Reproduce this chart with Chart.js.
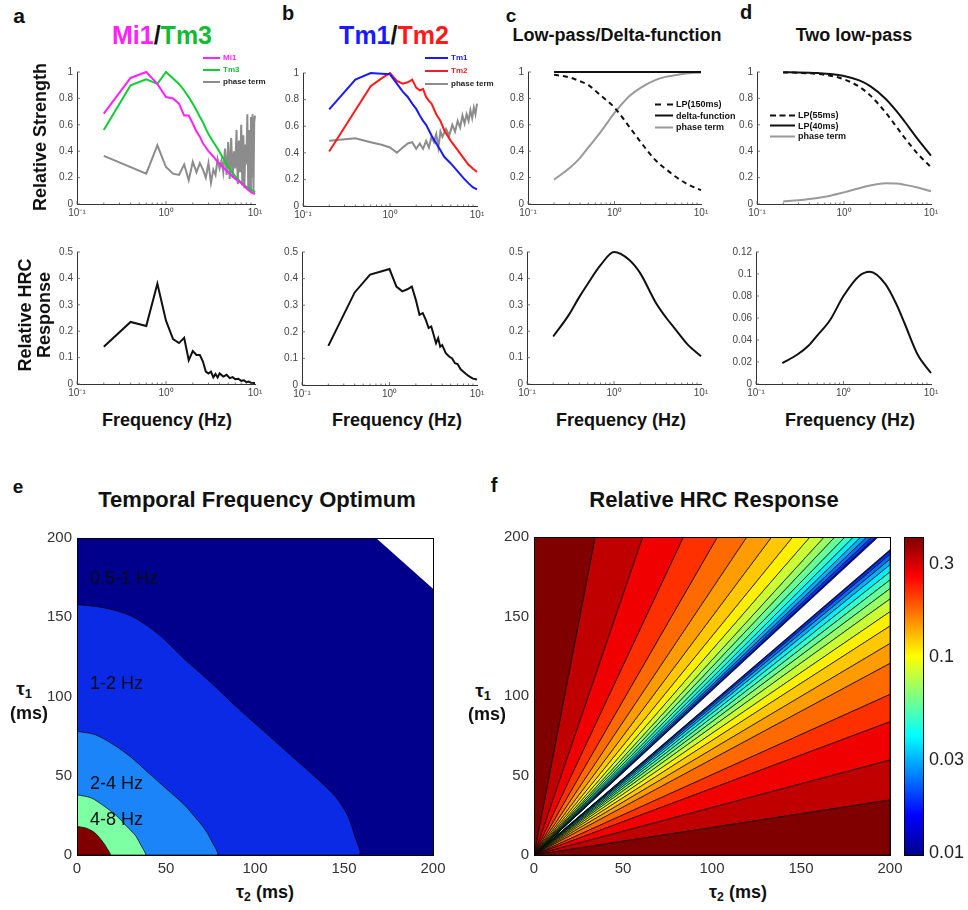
<!DOCTYPE html>
<html>
<head>
<meta charset="utf-8">
<title>HRC frequency tuning</title>
<script src="https://cdn.jsdelivr.net/npm/chart.js@4.4.1/dist/chart.umd.min.js"></script>
<style>
  body { margin: 0; background: #fff; }
  #page { position: relative; width: 968px; height: 910px; overflow: hidden;
          font-family: "Liberation Sans", Arial, Helvetica, sans-serif; }
  .box { position: absolute; }
  .txt { position: absolute; white-space: nowrap; line-height: 1; color: #111;
         transform: translate(-50%, -50%); }
  .leg { position: absolute; white-space: nowrap; line-height: 1; font-weight: bold;
         transform: translateY(-50%); }
  .leg i { display: inline-block; vertical-align: middle; margin-right: 3px; }
  sub { font-size: 68%; vertical-align: -0.3em; }
</style>
</head>
<body>
<div id="page"></div>
<script>
// ---- data ----

// a (top): Mi1 / Tm3 relative strength
const freqA = [0.2, 0.4, 0.6, 0.8, 1.0, 1.2, 1.4, 1.6, 1.8, 2.0, 2.2, 2.4, 2.6, 2.8, 3.0, 3.4, 3.8, 4.2, 5, 6, 7, 8, 9, 10];
const mi1 = [0.685, 0.955, 1.0, 0.91, 0.81, 0.80, 0.76, 0.67, 0.67, 0.61, 0.55, 0.51, 0.46, 0.43, 0.40, 0.36, 0.32, 0.29, 0.24, 0.19, 0.16, 0.12, 0.09, 0.075];
const tm3 = [0.56, 0.90, 0.945, 0.91, 1.0, 0.95, 0.91, 0.86, 0.81, 0.76, 0.71, 0.66, 0.62, 0.57, 0.53, 0.47, 0.42, 0.37, 0.28, 0.21, 0.16, 0.13, 0.11, 0.09];
const freqPhaseA = [0.2, 0.6, 0.8, 1.0, 1.2, 1.4, 1.6, 1.8, 2.0, 2.2, 2.4, 2.6, 2.8, 3.0, 3.2, 3.4, 3.6, 3.8, 4.0, 4.2, 4.4, 4.6, 4.8, 5.0,
                    5.2, 5.4, 5.6, 5.8, 6.0, 6.2, 6.4, 6.6, 6.8, 7.0, 7.2, 7.4, 7.6, 7.8, 8.0, 8.2, 8.4, 8.6, 8.8, 9.0, 9.2, 9.4, 9.6, 9.8, 10];
const phaseA = [0.365, 0.23, 0.445, 0.28, 0.23, 0.22, 0.30, 0.18, 0.32, 0.24, 0.31, 0.26, 0.20, 0.31, 0.16, 0.26, 0.22, 0.34, 0.27, 0.33, 0.24, 0.42, 0.22, 0.47,
                0.19, 0.50, 0.20, 0.40, 0.27, 0.56, 0.15, 0.48, 0.24, 0.60, 0.14, 0.52, 0.12, 0.45, 0.30, 0.68, 0.12, 0.56, 0.10, 0.66, 0.20, 0.68, 0.08, 0.62, 0.67];

// b (top): Tm1 / Tm2 relative strength
const freqB = [0.2, 0.4, 0.6, 0.8, 1.0, 1.2, 1.4, 1.6, 1.8, 2.0, 2.2, 2.4, 2.6, 2.8, 3.0, 3.4, 3.8, 4.2, 5, 6, 7, 8, 9, 10];
const tm1 = [0.727, 0.95, 1.0, 0.995, 0.99, 0.92, 0.86, 0.82, 0.77, 0.73, 0.68, 0.64, 0.61, 0.57, 0.53, 0.47, 0.42, 0.37, 0.32, 0.26, 0.21, 0.17, 0.14, 0.125];
const tm2 = [0.41, 0.72, 0.90, 0.96, 1.0, 0.94, 0.92, 0.93, 0.95, 0.89, 0.87, 0.88, 0.82, 0.79, 0.77, 0.69, 0.64, 0.57, 0.49, 0.42, 0.36, 0.31, 0.28, 0.255];
const freqPhaseB = [0.2, 0.4, 0.6, 0.8, 1.0, 1.2, 1.4, 1.6, 1.8, 2.0, 2.2, 2.4, 2.6, 2.8, 3.0, 3.2, 3.4, 3.6, 3.8, 4.0,
                    4.4, 4.8, 5.2, 5.6, 6.0, 6.4, 6.8, 7.2, 7.6, 8.0, 8.4, 8.8, 9.2, 9.6, 10];
const phaseB = [0.49, 0.51, 0.48, 0.46, 0.44, 0.40, 0.44, 0.47, 0.48, 0.43, 0.47, 0.43, 0.49, 0.44, 0.52, 0.48, 0.54, 0.44, 0.56, 0.52,
                0.58, 0.53, 0.61, 0.56, 0.64, 0.59, 0.68, 0.62, 0.69, 0.64, 0.72, 0.66, 0.74, 0.69, 0.77];

// a, b (bottom): relative HRC response
const freqHRC = [0.2, 0.4, 0.6, 0.8, 1.0, 1.2, 1.4, 1.6, 1.8, 2.0, 2.2, 2.4, 2.6, 2.8, 3.0, 3.2, 3.4, 3.6, 3.8, 4.0,
                 4.4, 4.8, 5.2, 5.6, 6.0, 6.5, 7.0, 7.5, 8.0, 8.5, 9.0, 10];
const hrcA = [0.141, 0.235, 0.22, 0.38, 0.24, 0.17, 0.155, 0.175, 0.09, 0.125, 0.11, 0.11, 0.085, 0.047, 0.04, 0.047, 0.025, 0.038, 0.025, 0.04,
              0.028, 0.035, 0.022, 0.026, 0.018, 0.02, 0.012, 0.014, 0.007, 0.009, 0.005, 0.004];
const hrcB = [0.147, 0.348, 0.415, 0.427, 0.436, 0.37, 0.352, 0.36, 0.37, 0.32, 0.264, 0.27, 0.245, 0.214, 0.22, 0.188, 0.157, 0.176, 0.144, 0.15,
              0.12, 0.107, 0.10, 0.082, 0.079, 0.059, 0.05, 0.041, 0.034, 0.029, 0.024, 0.021];

// c, d: model filters
const freqModel = [0.2, 0.3, 0.4, 0.5, 0.7, 1, 1.5, 2, 3, 4, 5, 7, 10];
const lp150 = [0.98, 0.96, 0.93, 0.90, 0.82, 0.73, 0.58, 0.47, 0.33, 0.26, 0.21, 0.15, 0.105];
const freqDelta = [0.2, 10];
const delta = [1, 1];
const phaseC = [0.185, 0.27, 0.35, 0.43, 0.55, 0.69, 0.82, 0.88, 0.94, 0.965, 0.975, 0.99, 0.995];
const hrcC = [0.18, 0.26, 0.33, 0.38, 0.45, 0.50, 0.47, 0.42, 0.31, 0.25, 0.21, 0.15, 0.105];
const lp55 = [0.997, 0.994, 0.99, 0.985, 0.972, 0.945, 0.888, 0.823, 0.694, 0.586, 0.50, 0.382, 0.278];
const lp40 = [0.998, 0.997, 0.995, 0.992, 0.985, 0.970, 0.936, 0.893, 0.798, 0.705, 0.623, 0.494, 0.367];
const phaseD = [0.019, 0.028, 0.037, 0.046, 0.063, 0.088, 0.12, 0.14, 0.157, 0.155, 0.145, 0.125, 0.097];
const hrcD = [0.019, 0.027, 0.035, 0.044, 0.058, 0.080, 0.098, 0.102, 0.091, 0.073, 0.055, 0.027, 0.010];

// e: contour boundaries (tau2, tau1 in ms), outermost first
const eNavyX = [0, 168, 200, 200],                                      eNavyY = [200, 200, 168, 0];
const eBlueX = [0, 15, 30, 45, 60, 75, 90, 105, 120, 135, 145, 152, 156, 158], eBlueY = [158, 156, 151, 140, 124, 109, 93, 78, 63, 48, 37, 25, 12, 0];
const eLightX = [0, 10, 20, 30, 40, 50, 60, 67, 72, 76, 78.5],          eLightY = [78, 76, 70, 62, 52, 42, 32, 23, 16, 8, 0];
const eGreenX = [0, 8, 15, 22, 28, 33, 36, 38, 38.5],                   eGreenY = [38, 36, 31, 25, 18, 12, 6, 2, 0];
const eRedX = [0, 5, 10, 14, 17, 18.5],                                 eRedY = [18, 17, 14, 9, 4, 0];
const eLabels = ['0.5-1 Hz', '1-2 Hz', '2-4 Hz', '4-8 Hz'];
const eLabelTau1 = [174, 108, 45, 22];

// f: contour rays from the origin, where they meet the top edge (tau2) and right edge (tau1)
const fTopEdge = [34.3, 61.0, 83.9, 103, 119.5, 133.5, 145.3, 155, 163, 169, 174.7, 179.4, 183.5, 186.9, 189.7, 192.1, 193.4];
const fRightEdge = [34.6, 59.7, 83.8, 101, 120.5, 133, 144, 153, 161, 167.5, 173, 178, 182.5, 186, 189, 191.2, 192];
const cbTicks = [0.01, 0.03, 0.1, 0.3];
const cbRange = [0.0098, 0.41];

// ---- styles ----
const FONT = '"Liberation Sans", Arial, Helvetica, sans-serif';
const fColors = ['#800000', '#c00000', '#f00000', '#ff3000', '#ff6a00', '#ff9c00', '#ffc800', '#fff000', '#ccff33',
                 '#99ff66', '#66ff99', '#33ffcc', '#00eeff', '#00b0ff', '#0070ff', '#0030ff', '#0000c8'];
const jetStops = [[0, '#00008f'], [0.125, '#0000ff'], [0.375, '#00ffff'], [0.625, '#ffff00'], [0.875, '#ff0000'], [1, '#800000']];
const SUP = { 0.1: '10\u207B\u00B9', 1: '10\u2070', 10: '10\u00B9' };

Chart.defaults.font.family = FONT;
Chart.defaults.animation = false;
Chart.defaults.responsive = true;
Chart.defaults.maintainAspectRatio = false;
Chart.defaults.plugins.legend.display = false;
Chart.defaults.plugins.tooltip.enabled = false;

const page = document.getElementById('page');

function box(l, t, r, b) {
  const d = document.createElement('div');
  d.className = 'box';
  d.style.cssText = `left:${l}px;top:${t}px;width:${r - l}px;height:${b - t}px`;
  const c = document.createElement('canvas');
  d.appendChild(c);
  page.appendChild(d);
  return c;
}

// fixed axis size so the plot area lands where it is in the figure
function fitTo(size) {
  return s => {
    if (s.isHorizontal()) s.height = size; else s.width = size;
    s.paddingLeft = s.paddingRight = s.paddingTop = s.paddingBottom = 0;
  };
}

function text(html, x, y, css) {
  const d = document.createElement('div');
  d.className = 'txt';
  d.innerHTML = html;
  d.style.left = x + 'px';
  d.style.top = y + 'px';
  Object.assign(d.style, css || {});
  page.appendChild(d);
}

function legend(x, y, gap, w, size, rows) {
  rows.forEach((r, i) => {
    const d = document.createElement('div');
    d.className = 'leg';
    d.style.left = x + 'px';
    d.style.top = (y + i * gap) + 'px';
    d.style.fontSize = size + 'px';
    d.innerHTML = `<i style="width:${w}px;border-top:2px ${r[3] ? 'dashed' : 'solid'} ${r[1]}"></i><span style="color:${r[2]}">${r[0]}</span>`;
    page.appendChild(d);
  });
}

// small inward ticks like the original axes
const innerTicks = {
  id: 'innerTicks',
  afterDatasetsDraw(chart) {
    const { ctx, chartArea: a, scales: { x, y } } = chart;
    ctx.save();
    ctx.strokeStyle = '#555';
    ctx.lineWidth = 0.8;
    ctx.beginPath();
    [0.1, 1].forEach(d => {
      for (let k = 1; k <= 9; k++) {
        const px = x.getPixelForValue(d * k);
        ctx.moveTo(px, a.bottom);
        ctx.lineTo(px, a.bottom - (k === 1 ? 3 : 1.5));
      }
    });
    y.ticks.forEach(t => {
      const py = y.getPixelForValue(t.value);
      ctx.moveTo(a.left, py);
      ctx.lineTo(a.left + 3, py);
    });
    ctx.stroke();
    ctx.restore();
  }
};

const frame = {
  id: 'frame',
  afterDatasetsDraw(chart) {
    const { ctx, chartArea: a } = chart;
    ctx.save();
    ctx.strokeStyle = '#000';
    ctx.lineWidth = 1;
    ctx.strokeRect(Math.round(a.left) + 0.5, Math.round(a.top) + 0.5, Math.round(a.right - a.left), Math.round(a.bottom - a.top));
    ctx.restore();
  }
};

function series(xs, ys, color, smooth, dash) {
  return {
    data: xs.map((x, i) => ({ x, y: ys[i] })),
    borderColor: color, borderWidth: 2, borderDash: dash || [],
    pointRadius: 0, fill: false, clip: 4,
    tension: smooth ? 0.4 : 0, cubicInterpolationMode: smooth ? 'monotone' : 'default'
  };
}

function freqChart(area, datasets, yMax, yStep) {
  const [L, T, R, B] = area;
  const axisStyle = {
    grid: { drawOnChartArea: false, drawTicks: false },
    border: { color: '#333', width: 1 }
  };
  return new Chart(box(L - 30, T - 8, R + 14, B + 18), {
    type: 'line',
    data: { datasets },
    options: {
      layout: { padding: { left: 0, top: 8, right: 14, bottom: 2 } },
      scales: {
        x: Object.assign({}, axisStyle, {
          type: 'logarithmic', min: 0.1, max: 10,
          afterBuildTicks: s => { s.ticks = [0.1, 1, 10].map(v => ({ value: v })); },
          afterFit: fitTo(16),
          ticks: { callback: v => SUP[v], font: { size: 10 }, color: '#444', padding: 3, maxRotation: 0, autoSkip: false }
        }),
        y: Object.assign({}, axisStyle, {
          min: 0, max: yMax,
          afterFit: fitTo(30),
          ticks: { stepSize: yStep, font: { size: 10 }, color: '#444', padding: 4, callback: v => String(+v.toFixed(3)) }
        })
      }
    },
    plugins: [innerTicks]
  });
}

function polygon(pts, color, withEdge, order, smooth) {
  return {
    data: pts.map(p => ({ x: p[0], y: p[1] })),
    fill: 'shape', backgroundColor: color,
    borderColor: '#000', borderWidth: withEdge ? 0.7 : 0,
    pointRadius: 0, tension: smooth ? 0.3 : 0, order: order || 0
  };
}

function region(xs, ys, color, withEdge, order) {
  const pts = xs.map((x, i) => [x, ys[i]]);
  pts.push([0, 0]);
  return polygon(pts, color, withEdge, order, withEdge);
}

function tauChart(area, datasets, extra) {
  const [L, T, R, B] = area;
  const axis = size => ({
    type: 'linear', min: 0, max: 200,
    afterFit: fitTo(size),
    grid: { drawOnChartArea: false, drawTicks: false },
    border: { color: '#000', width: 1 },
    ticks: { stepSize: 50, font: { size: 15 }, color: '#333', padding: 5 }
  });
  return new Chart(box(L - 40, T - 8, R + 14, B + 26), {
    type: 'line',
    data: { datasets },
    options: {
      layout: { padding: { left: 0, top: 8, right: 14, bottom: 2 } },
      scales: { x: axis(24), y: axis(40) }
    },
    plugins: [frame].concat(extra || [])
  });
}

// ---- top row: relative strength ----
freqChart([77, 72, 255, 204], [
  series(freqA, mi1, '#ff22ff'),
  series(freqA, tm3, '#11cc33'),
  series(freqPhaseA, phaseA, '#8c8c8c')
], 1, 0.2);
freqChart([303, 73, 477, 206], [
  series(freqB, tm1, '#1a1aff'),
  series(freqB, tm2, '#ff1a1a'),
  series(freqPhaseB, phaseB, '#8c8c8c')
], 1, 0.2);
freqChart([528, 72, 701, 204], [
  series(freqDelta, delta, '#111'),
  series(freqModel, lp150, '#111', true, [5, 4]),
  series(freqModel, phaseC, '#9a9a9a', true)
], 1, 0.2);
freqChart([757, 72, 931, 204], [
  series(freqModel, lp40, '#111', true),
  series(freqModel, lp55, '#111', true, [5, 4]),
  series(freqModel, phaseD, '#9a9a9a', true)
], 1, 0.2);

// ---- second row: relative HRC response ----
freqChart([77, 252, 255, 384], [series(freqHRC, hrcA, '#111')], 0.5, 0.1);
freqChart([302, 252, 477, 385], [series(freqHRC, hrcB, '#111')], 0.5, 0.1);
freqChart([527, 252, 701, 384], [series(freqModel, hrcC, '#111', true)], 0.5, 0.1);
freqChart([756, 252, 931, 384], [series(freqModel, hrcD, '#111', true)], 0.12, 0.02);

// ---- e: temporal frequency optimum ----
const eText = {
  id: 'eText',
  afterDatasetsDraw(chart) {
    const { ctx, scales: { x, y } } = chart;
    ctx.save();
    ctx.font = '18px ' + FONT;
    ctx.fillStyle = '#0a0a12';
    ctx.textBaseline = 'middle';
    eLabels.forEach((t, i) => ctx.fillText(t, x.getPixelForValue(7.3), y.getPixelForValue(eLabelTau1[i])));
    ctx.restore();
  }
};
tauChart([77, 538, 433, 855], [
  region(eNavyX, eNavyY, '#00008c', false, 5),
  region(eBlueX, eBlueY, '#0a2ae6', true, 4),
  region(eLightX, eLightY, '#1a84f8', true, 3),
  region(eGreenX, eGreenY, '#7dffa4', true, 2),
  region(eRedX, eRedY, '#800000', true, 1)
], [eText]);

// ---- f: relative HRC response ----
const fSets = [];
fColors.forEach((c, i) => {
  const a = i === 0 ? null : fTopEdge[i - 1];
  fSets.push(polygon(a === null
    ? [[0, 0], [0, 200], [fTopEdge[0], 200], [0, 0]]
    : [[0, 0], [a, 200], [fTopEdge[i], 200], [0, 0]], c, true));
  const b = i === 0 ? null : fRightEdge[i - 1];
  fSets.push(polygon(b === null
    ? [[0, 0], [200, 0], [200, fRightEdge[0]], [0, 0]]
    : [[0, 0], [200, b], [200, fRightEdge[i]], [0, 0]], c, true));
});
tauChart([534, 537, 890, 855], fSets);

// colorbar
new Chart(box(904, 525, 969, 867), {
  type: 'bar',
  data: {
    labels: ['HRC'],
    datasets: [{
      data: [cbRange],
      barPercentage: 1, categoryPercentage: 1, borderWidth: 0,
      backgroundColor: c => {
        const a = c.chart.chartArea;
        if (!a) return '#888';
        const g = c.chart.ctx.createLinearGradient(0, a.bottom, 0, a.top);
        jetStops.forEach(s => g.addColorStop(s[0], s[1]));
        return g;
      }
    }]
  },
  options: {
    layout: { padding: { left: 0, top: 12, right: 0, bottom: 12 } },
    scales: {
      x: { display: false },
      y: {
        type: 'logarithmic', position: 'right', min: cbRange[0], max: cbRange[1],
        afterBuildTicks: s => { s.ticks = cbTicks.map(v => ({ value: v })); },
        afterFit: fitTo(46),
        grid: { drawOnChartArea: false, drawTicks: false },
        border: { color: '#000' },
        ticks: { callback: v => String(v), font: { size: 18 }, color: '#222', padding: 6 }
      }
    }
  },
  plugins: [frame]
});

// ---- text ----
const big = s => ({ fontSize: s + 'px', fontWeight: 'bold' });

text('a', 19, 15, big(21));
text('b', 288, 13, big(20));
text('c', 511, 15, big(19));
text('d', 746, 12, big(20));
text('e', 18, 486, big(19));
text('f', 494, 485, big(20));

text('<span style="color:#ff22ff">Mi1</span>/<span style="color:#11bb33">Tm3</span>', 162, 35, big(25));
text('<span style="color:#1a1aff">Tm1</span>/<span style="color:#ff1a1a">Tm2</span>', 394, 35, big(25));
text('Low-pass/Delta-function', 617, 35, big(18));
text('Two low-pass', 854, 35, big(18));

text('Relative Strength', 40, 137, Object.assign(big(18), { transform: 'translate(-50%,-50%) rotate(-90deg)' }));
text('Relative HRC<br>Response', 35, 315, Object.assign(big(18), { textAlign: 'center', lineHeight: '1.05', transform: 'translate(-50%,-50%) rotate(-90deg)' }));
[167, 397, 621, 850].forEach(x => text('Frequency (Hz)', x, 420, big(18)));

text('Temporal Frequency Optimum', 257, 500, big(22));
text('Relative HRC Response', 714, 500, big(22));
text('\u03C4<sub>1</sub>', 24, 690, big(19));
text('(ms)', 29, 713, big(18));
text('\u03C4<sub>1</sub>', 483, 692, big(19));
text('(ms)', 487, 714, big(18));
text('\u03C4<sub>2</sub> (ms)', 265, 893, big(18));
text('\u03C4<sub>2</sub> (ms)', 738, 893, big(18));

legend(203, 58, 12, 17, 8, [['Mi1', '#ff22ff', '#ff22ff'], ['Tm3', '#11cc33', '#11bb33'], ['phase term', '#8c8c8c', '#222']]);
legend(425, 58, 13, 23, 8, [['Tm1', '#1a1aff', '#1a1aff'], ['Tm2', '#ff1a1a', '#ff1a1a'], ['phase term', '#8c8c8c', '#222']]);
legend(655, 104, 11.5, 18, 9, [['LP(150ms)', '#111', '#111', true], ['delta-function', '#111', '#111'], ['phase term', '#9a9a9a', '#111']]);
legend(770, 115, 10.5, 25, 9, [['LP(55ms)', '#111', '#111', true], ['LP(40ms)', '#111', '#111'], ['phase term', '#9a9a9a', '#111']]);
</script>
</body>
</html>
